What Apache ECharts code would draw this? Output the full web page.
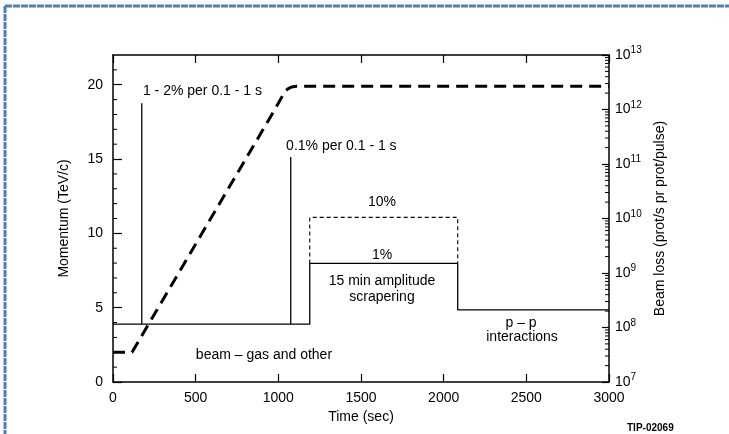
<!DOCTYPE html>
<html>
<head>
<meta charset="utf-8">
<script src="https://cdn.jsdelivr.net/npm/echarts@6/dist/echarts.min.js"></script>
<style>
  html, body { margin: 0; padding: 0; background: #fff; }
  #chart { width: 729px; height: 434px; }
</style>
</head>
<body>
<div id="chart"></div>
<script>
// momentum ramp (left axis, TeV/c)
var momT = [0, 115, 940, 1000, 1030, 1055, 1080, 1110, 3000];
var momP = [2, 2, 17.6, 18.75, 19.35, 19.7, 19.85, 19.9, 19.9];

// beam loss (right axis, prot/s), spikes drawn as up-and-down steps
var lossT = [0, 174, 174, 174, 1075, 1075, 1075, 1190, 1190, 2085, 2085, 3000];
var lossV = [1.15e8, 1.15e8, 1.3e12, 1.15e8, 1.15e8, 1.35e11, 1.15e8, 1.15e8, 1.5e9, 1.5e9, 2.1e8, 2.1e8];

// 10% scraping case (dashed)
var scrapeT = [1190, 1190, 2085, 2085];
var scrapeV = [1.5e9, 1.05e10, 1.05e10, 1.5e9];

// minor ticks on the left axis
var momMinor = [1, 2, 3, 4, 6, 7, 8, 9, 11, 12, 13, 14, 16, 17, 18, 19, 21];

// annotations, in (time, momentum) coordinates
var noteT = [181, 1047, 1627, 1627, 1627, 1627, 913, 2468, 2474];
var noteP = [19.55, 15.85, 12.1, 8.52, 6.77, 5.7, 1.8, 3.97, 3.0];
var noteText = ['1 - 2% per 0.1 - 1 s', '0.1% per 0.1 - 1 s', '10%', '1%',
  '15 min amplitude', 'scrapering', 'beam \u2013 gas and other', 'p \u2013 p', 'interactions'];
var noteAlign = ['left', 'left', 'center', 'center', 'center', 'center', 'center', 'center', 'center'];

// log minor ticks on the right axis (2..9 in each decade)
var logMinor = [];
for (var d = 7; d < 13; d++) {
  for (var m = 2; m <= 9; m++) logMinor.push(m * Math.pow(10, d));
}

var FONT = 'Liberation Sans';
var chart = echarts.init(document.getElementById('chart'));

var tickLine = { color: '#000', width: 1.2 };
var frameLine = { color: '#000', width: 1.5 };

function tickSeries(name, yIndex, xVal, vals, dir) {
  return {
    name: name, type: 'custom', xAxisIndex: 0, yAxisIndex: yIndex, silent: true,
    renderItem: function (params, api) {
      var pt = api.coord([api.value(0), api.value(1)]);
      return { type: 'line', shape: { x1: pt[0] + dir * 4, y1: pt[1], x2: pt[0], y2: pt[1] },
        style: { stroke: '#000', lineWidth: 1 } };
    },
    data: vals.map(function (v) { return [xVal, v]; })
  };
}

chart.setOption({
  animation: false,
  backgroundColor: '#fff',
  textStyle: { fontFamily: FONT, color: '#000' },
  grid: { left: 113, right: 120, top: 55, bottom: 52 },
  xAxis: [
    {
      type: 'value', min: 0, max: 3000, interval: 500,
      name: 'Time (sec)', nameLocation: 'middle', nameGap: 26,
      nameTextStyle: { fontSize: 14, color: '#000', fontFamily: FONT },
      axisLine: { show: true, onZero: false, lineStyle: frameLine },
      axisTick: { show: true, inside: true, length: 8, lineStyle: tickLine },
      axisLabel: { fontSize: 14, color: '#000', margin: 9, fontFamily: FONT,
        formatter: function (v) { return String(v); } },
      splitLine: { show: false }
    },
    {
      type: 'value', position: 'top', min: 0, max: 3000, interval: 500,
      axisLine: { show: true, onZero: false, lineStyle: frameLine },
      axisTick: { show: true, inside: true, length: 8, lineStyle: tickLine },
      axisLabel: { show: false },
      splitLine: { show: false }
    }
  ],
  yAxis: [
    {
      type: 'value', min: 0, max: 22, interval: 5, position: 'left',
      name: 'Momentum (TeV/c)', nameLocation: 'middle', nameGap: 42, nameRotate: 90,
      nameTextStyle: { fontSize: 14, color: '#000', fontFamily: FONT },
      axisLine: { show: true, onZero: false, lineStyle: frameLine },
      axisTick: { show: true, inside: true, length: 9, lineStyle: tickLine },
      axisLabel: { fontSize: 14, color: '#000', margin: 10, fontFamily: FONT, showMaxLabel: false },
      splitLine: { show: false }
    },
    {
      type: 'log', logBase: 10, min: 1e7, max: 1e13, position: 'right',
      name: 'Beam loss (prot/s pr prot/pulse)', nameLocation: 'middle', nameGap: 44, nameRotate: 90,
      nameTextStyle: { fontSize: 14, color: '#000', fontFamily: FONT },
      axisLine: { show: true, onZero: false, lineStyle: frameLine },
      axisTick: { show: true, inside: true, length: 7, lineStyle: tickLine },
      axisLabel: {
        margin: 6,
        formatter: function (v) {
          return '{m|10}{e|' + Math.round(Math.log10(v)) + '}';
        },
        rich: {
          m: { fontSize: 14, color: '#000', fontFamily: FONT },
          e: { fontSize: 10, color: '#000', fontFamily: FONT, padding: [0, 0, 9, 0] }
        }
      },
      splitLine: { show: false }
    }
  ],
  graphic: [
    { type: 'line', shape: { x1: 5, y1: 6, x2: 729, y2: 6 },
      style: { stroke: '#4f7fbd', lineWidth: 3, lineDash: [7, 1] } },
    { type: 'line', shape: { x1: 5, y1: 6, x2: 5, y2: 434 },
      style: { stroke: '#4f7fbd', lineWidth: 3, lineDash: [7, 1] } },
    { type: 'text', left: 627, top: 423,
      style: { text: 'TIP-02069', font: 'bold 10px ' + FONT, fill: '#000' } }
  ],
  series: [
    {
      name: 'Momentum', type: 'line', xAxisIndex: 0, yAxisIndex: 0,
      showSymbol: false,
      lineStyle: { color: '#000', width: 3, type: [12, 7] },
      data: momT.map(function (t, i) { return [t, momP[i]]; })
    },
    {
      name: 'Beam loss', type: 'line', xAxisIndex: 0, yAxisIndex: 1,
      showSymbol: false,
      lineStyle: { color: '#000', width: 1.3 },
      data: lossT.map(function (t, i) { return [t, lossV[i]]; })
    },
    {
      name: 'Scraping 10%', type: 'line', xAxisIndex: 0, yAxisIndex: 1,
      showSymbol: false,
      lineStyle: { color: '#000', width: 1.1, type: [4, 3] },
      data: scrapeT.map(function (t, i) { return [t, scrapeV[i]]; })
    },
    tickSeries('momMinor', 0, 0, momMinor, 1),
    tickSeries('logMinor', 1, 3000, logMinor, -1),
    {
      name: 'notes', type: 'custom', xAxisIndex: 0, yAxisIndex: 0, silent: true,
      renderItem: function (params, api) {
        var i = params.dataIndex;
        var pt = api.coord([noteT[i], noteP[i]]);
        return { type: 'text', x: pt[0], y: pt[1],
          style: { text: noteText[i], font: '14px ' + FONT, fill: '#000',
            align: noteAlign[i], verticalAlign: 'middle' } };
      },
      data: noteT.map(function (t, i) { return [t, noteP[i]]; })
    }
  ]
});
</script>
</body>
</html>
